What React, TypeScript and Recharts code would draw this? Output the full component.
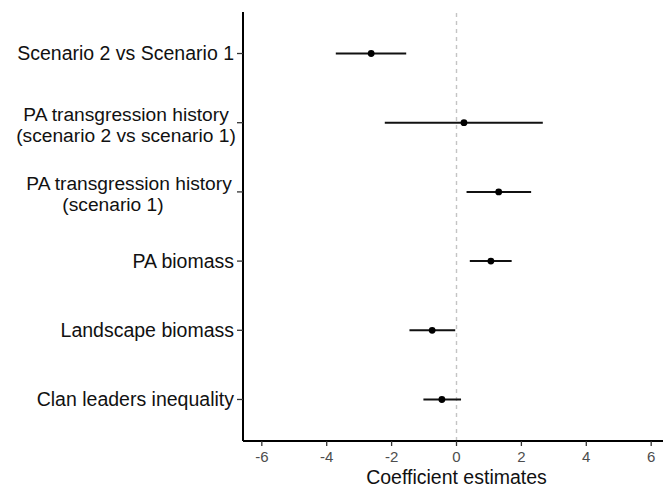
import React from 'react';
import {
  ScatterChart,
  Scatter,
  XAxis,
  YAxis,
  ErrorBar,
  ReferenceLine,
} from 'recharts';

// 계수 추정치 (점 + 신뢰구간)
const labels = [
  'Scenario 2 vs Scenario 1',
  'PA transgression history\n(scenario 2 vs scenario 1)',
  'PA transgression history\n(scenario 1)',
  'PA biomass',
  'Landscape biomass',
  'Clan leaders inequality',
];
const estimates = [-2.63, 0.23, 1.3, 1.06, -0.75, -0.45];
const lower = [-3.72, -2.21, 0.31, 0.41, -1.45, -1.02];
const upper = [-1.55, 2.66, 2.3, 1.7, -0.04, 0.14];
const xTicks = [-6, -4, -2, 0, 2, 4, 6];

const data = labels.map((label, i) => ({
  row: i + 1,
  label,
  est: estimates[i],
  err: [estimates[i] - lower[i], upper[i] - estimates[i]],
}));

const FONT = '"Liberation Sans", Arial, Helvetica, sans-serif';

// 여러 줄 라벨 보정 (원본 그림의 배치 흉내)
const nudge: Record<number, { dy: number; dx: number[] }> = {
  2: { dy: 2, dx: [0, 0] },
  3: { dy: 2, dx: [3, -13] },
};

function YTick({ x, y, payload }: { x?: number; y?: number; payload?: { value: number } }) {
  const idx = (payload?.value ?? 1) as number;
  const lines = labels[idx - 1].split('\n');
  if (lines.length === 1) {
    return (
      <text x={x} y={y} dy="0.35em" textAnchor="end" fontSize={19.5} fontFamily={FONT} fill="#111">
        {lines[0]}
      </text>
    );
  }
  const n = nudge[idx] ?? { dy: 0, dx: [0, 0] };
  const lh = 21.3;
  const cx = (x ?? 0) - 108;
  return (
    <text textAnchor="middle" fontSize={19.2} fontFamily={FONT} fill="#111">
      {lines.map((line, i) => (
        <tspan
          key={i}
          x={cx + (n.dx[i] ?? 0)}
          y={(y ?? 0) + n.dy + (i - (lines.length - 1) / 2) * lh}
          dy="0.35em"
        >
          {line}
        </tspan>
      ))}
    </text>
  );
}

export default function App() {
  return (
    <div
      style={{
        position: 'absolute',
        left: 0,
        top: 0,
        width: 663,
        height: 487,
        overflow: 'hidden',
        background: '#fff',
      }}
    >
      <ScatterChart
        width={670}
        height={487}
        margin={{ top: 12, right: 0, bottom: 0, left: 0 }}
      >
        <XAxis
          type="number"
          dataKey="est"
          domain={[-6.58, 6.58]}
          ticks={xTicks}
          height={46}
          axisLine={{ stroke: '#000', strokeWidth: 2 }}
          tickLine={{ stroke: '#333', strokeWidth: 1.3 }}
          tickSize={5}
          tickMargin={5}
          tick={{ fontSize: 15, fill: '#4d4d4d', fontFamily: FONT }}
          label={{
            value: 'Coefficient estimates',
            position: 'insideBottom',
            offset: 3,
            fontSize: 19.5,
            fill: '#111',
            fontFamily: FONT,
          }}
        />
        <YAxis
          type="number"
          dataKey="row"
          domain={[0.4, 6.6]}
          ticks={[1, 2, 3, 4, 5, 6]}
          reversed
          width={243}
          axisLine={{ stroke: '#000', strokeWidth: 2 }}
          tickLine={{ stroke: '#333', strokeWidth: 1.3 }}
          tickSize={6}
          tickMargin={3}
          tick={<YTick />}
        />
        <ReferenceLine x={0} stroke="#c4c4c4" strokeDasharray="4 4" strokeWidth={1.4} />
        <Scatter
          data={data}
          isAnimationActive={false}
          shape={(p: any) => <circle cx={p.cx} cy={p.cy} r={3.4} fill="#000" />}
        >
          <ErrorBar
            dataKey="err"
            direction="x"
            width={0}
            stroke="#111"
            strokeWidth={2}
            isAnimationActive={false}
          />
        </Scatter>
      </ScatterChart>
    </div>
  );
}
